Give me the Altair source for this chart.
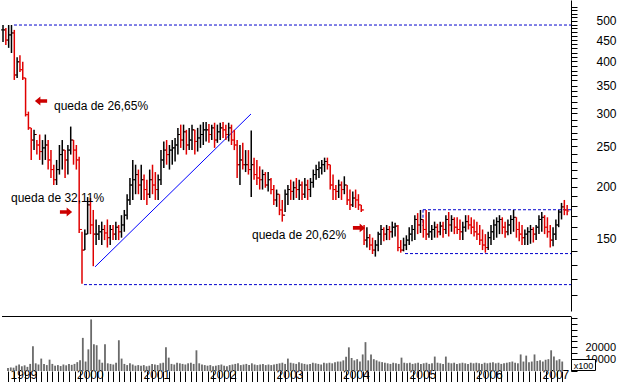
import altair as alt
import pandas as pd

# ---------------- data (semi-monthly bars, Jan 1999 .. Apr 2007) ----------------
high_1999 = [489,481,489,489,476,409,414,399,365,303,277,274,259,267,259,267,259,245,226,232,252,259,245,252]
low_1999 = [445,438,431,419,361,365,377,361,295,274,232,245,239,232,226,232,220,210,202,202,214,220,210,214]
close_1999 = [476,450,463,468,371,399,382,365,298,277,259,267,252,243,248,252,232,220,208,220,239,245,232,245]

high_2000 = [279,259,252,236,156,158,189,188,176,167,162,165,162,167,162,162,165,162,171,176,192,210,232,226]
low_2000 = [239,226,220,155,117,141,154,154,129,145,149,145,149,143,145,149,149,149,151,156,167,181,186,192]
close_2000 = [259,245,232,158,141,154,181,162,154,154,156,158,155,151,158,154,160,156,162,171,186,202,208,214]

high_2001 = [220,226,214,208,220,226,217,214,245,257,259,252,259,262,277,282,282,274,277,282,274,277,282,286]
low_2001 = [192,186,186,181,188,192,186,186,202,222,226,220,226,230,239,248,245,239,245,245,239,243,248,252]
close_2001 = [202,208,197,192,208,202,197,208,232,245,239,245,248,252,267,259,271,252,259,274,257,262,267,274]

high_2002 = [286,283,282,285,282,285,286,282,285,282,274,259,252,255,245,245,273,235,232,224,220,217,217,210]
low_2002 = [257,255,259,248,255,259,262,259,257,252,245,210,202,220,217,214,189,208,202,197,197,199,195,192]
close_2002 = [274,267,277,259,271,277,274,267,277,259,252,226,232,226,226,220,226,214,210,208,214,202,208,197]

high_2003 = [202,197,192,186,197,202,208,206,210,208,206,210,208,210,220,226,230,232,235,235,226,214,202,208]
low_2003 = [181,179,171,165,174,181,186,186,188,186,186,188,186,189,199,208,210,214,217,220,197,186,186,188]
close_2003 = [186,192,176,171,192,197,195,199,197,202,192,202,197,205,214,220,222,226,230,226,202,197,195,202]

high_2004 = [206,212,202,197,195,197,192,181,162,160,154,151,149,156,162,160,162,161,165,164,162,149,151,153]
low_2004 = [186,192,181,176,179,178,176,174,145,143,141,138,136,140,145,148,149,149,151,152,140,139,140,141]
close_2004 = [197,202,186,181,188,186,181,176,149,151,145,141,145,154,158,154,158,156,160,161,143,141,145,149]

high_2005 = [160,162,171,173,176,167,176,174,162,165,163,165,165,171,174,171,169,169,167,165,171,171,169,167]
low_2005 = [145,148,149,154,155,151,149,151,149,151,151,153,151,154,152,156,154,154,149,149,156,158,154,152]
close_2005 = [154,158,167,162,167,158,154,156,158,160,156,161,158,167,162,167,160,158,156,160,165,162,160,156]

high_2006 = [165,162,158,154,156,162,167,169,171,169,165,167,171,176,169,165,162,158,160,162,160,162,171,174]
low_2006 = [149,145,141,139,141,145,149,151,154,154,151,153,154,156,151,148,145,145,145,146,147,149,154,156]
close_2006 = [154,149,145,143,151,156,162,165,167,160,156,162,167,169,158,154,151,154,156,158,154,160,167,169]

high_2007 = [171,169,162,160,167,176,183,186,181]
low_2007 = [154,151,143,144,149,160,167,171,171]
close_2007 = [160,156,149,154,162,174,179,176,175]

# volume in units of x100
vol_1999 = [2500,3000,2800,4500,5500,4000,4800,3500,6000,21000,6500,5500,10500,6000,5000,9600,6000,4500,5000,4200,5500,4800,6000,5200]
vol_2000 = [6000,7500,9000,28000,8000,18300,43600,22700,21800,9600,7000,22700,6500,6000,5500,7000,26000,10500,6000,5000,6500,5500,4500,5000]
vol_2001 = [4500,5000,4000,4500,6000,5500,5000,6500,7000,20000,11300,6000,5500,7000,6500,6000,5500,6500,7000,6000,17500,6500,5500,5000]
vol_2002 = [4500,5000,4000,4500,5000,5500,4500,4000,5000,5500,6000,6500,5000,5500,6000,5000,6500,5500,5000,5500,6000,5000,5500,5000]
vol_2003 = [5500,6000,6500,7000,6000,10500,7000,6500,6000,7500,6500,6000,5500,6000,7000,6500,6000,5500,7000,6500,7000,6500,7500,8000]
vol_2004 = [8000,9000,12000,20000,11000,9000,10000,8000,14000,24400,9000,14000,10000,9000,8000,7500,7000,6500,6000,7000,6500,6000,11300,7000]
vol_2005 = [6500,7000,6000,6500,7000,6000,6500,7000,6000,6500,12200,7000,6500,6000,12200,7000,6500,7000,6000,6500,7000,6500,6000,7000]
vol_2006 = [6500,7000,6500,6000,7000,6500,7000,7500,6500,7000,6000,6500,7000,7500,8000,7000,6500,14000,8000,13000,7500,8000,14000,8500]
vol_2007 = [9000,8000,9500,10000,17500,12200,9000,10000,8000]

highs = high_1999 + high_2000 + high_2001 + high_2002 + high_2003 + high_2004 + high_2005 + high_2006 + high_2007
lows = low_1999 + low_2000 + low_2001 + low_2002 + low_2003 + low_2004 + low_2005 + low_2006 + low_2007
closes = close_1999 + close_2000 + close_2001 + close_2002 + close_2003 + close_2004 + close_2005 + close_2006 + close_2007
volumes = vol_1999 + vol_2000 + vol_2001 + vol_2002 + vol_2003 + vol_2004 + vol_2005 + vol_2006 + vol_2007

n = min(len(highs), len(lows), len(closes), len(volumes))
t = [1999 + i / 24 for i in range(n)]
opens = [closes[0]] + closes[: n - 1]
dirs = ["down" if c < o else "up" for c, o in zip(closes[:n], opens)]
df = pd.DataFrame(dict(t=t, high=highs[:n], low=lows[:n], open=opens, close=closes[:n], dir=dirs, vol=volumes[:n]))

# annotation lines (fractional year, price)
hline_x1 = [1999.162, 2000.196, 2005.204, 2004.938]
hline_x2 = [2007.39, 2007.39, 2007.39, 2007.39]
hline_y = [489, 116.5, 176.2, 138.3]
trend_t = [2000.359, 2002.663]
trend_p = [128.5, 299.1]
vline_t = [2005.204]
vline_y1 = [176.2]
vline_y2 = [161.0]

labels = ["queda de 26,65%", "queda de 32,11%", "queda de 20,62%"]
label_t = [1999.753, 1999.118, 2002.678]
label_p = [312.6, 188.1, 153.3]
arrow_dir = ["left", "right", "right"]
arrow_t = [1999.561, 1999.931, 2004.259]
arrow_p = [321.4, 174.0, 159.4]

# ---------------- chart ----------------
FONT = "Liberation Sans"
W = 569
xs = alt.Scale(domain=[1998.985, 2007.39], nice=False, zero=False)
ys = alt.Scale(type="log", domain=[100.7, 561.5], nice=False)
color = alt.Color("dir:N", scale=alt.Scale(domain=["up", "down"], range=["#000000", "#e00000"]), legend=None)

price_axis = alt.Axis(
    orient="right", values=list(range(110, 541, 10)),
    labelExpr="datum.value % 50 == 0 && datum.value >= 150 && datum.value <= 500 ? '' + datum.value : ''",
    tickSize=6, tickColor="black", domainColor="black", labelColor="black",
    labelFont=FONT, labelFontSize=12, labelPadding=19, title=None, grid=False,
    labelOverlap=False, labelFlush=False,
)
xq = alt.X("t:Q", scale=xs, axis=None)

base = alt.Chart(df)
hl = base.mark_rule(strokeWidth=1.5).encode(
    x=xq, y=alt.Y("low:Q", scale=ys, axis=price_axis), y2="high:Q", color=color)
op = base.mark_rule(strokeWidth=1, xOffset=-2).encode(
    x=xq, x2="t:Q", y=alt.Y("open:Q", scale=ys, axis=price_axis), color=color)
cl = base.mark_rule(strokeWidth=1, x2Offset=2).encode(
    x=xq, x2="t:Q", y=alt.Y("close:Q", scale=ys, axis=price_axis), color=color)

hdf = pd.DataFrame(dict(x1=hline_x1, x2=hline_x2, y=hline_y))
hlines = alt.Chart(hdf).mark_rule(color="#0000cc", strokeDash=[3, 2], strokeWidth=1).encode(
    x=alt.X("x1:Q", scale=xs, axis=None), x2="x2:Q", y=alt.Y("y:Q", scale=ys, axis=price_axis))

vdf = pd.DataFrame(dict(x=vline_t, y1=vline_y1, y2=vline_y2))
vlines = alt.Chart(vdf).mark_rule(color="#0000cc", strokeDash=[3, 2], strokeWidth=1).encode(
    x=alt.X("x:Q", scale=xs, axis=None), y=alt.Y("y1:Q", scale=ys, axis=price_axis), y2="y2:Q")

tdf = pd.DataFrame(dict(t=trend_t, p=trend_p))
trend = alt.Chart(tdf).mark_line(color="#0000ff", strokeWidth=1).encode(
    x=alt.X("t:Q", scale=xs, axis=None), y=alt.Y("p:Q", scale=ys, axis=price_axis))

ldf = pd.DataFrame(dict(t=label_t, p=label_p, txt=labels))
texts = alt.Chart(ldf).mark_text(align="left", baseline="middle", font=FONT, fontSize=12, color="black").encode(
    x=alt.X("t:Q", scale=xs, axis=None), y=alt.Y("p:Q", scale=ys, axis=price_axis), text="txt:N")

RIGHT_ARROW = "M 1 0 L 0.1 -0.72 L 0.1 -0.3 L -1 -0.3 L -1 0.3 L 0.1 0.3 L 0.1 0.72 Z"
LEFT_ARROW = "M -1 0 L -0.1 -0.72 L -0.1 -0.3 L 1 -0.3 L 1 0.3 L -0.1 0.3 L -0.1 0.72 Z"
adf = pd.DataFrame(dict(t=arrow_t, p=arrow_p, d=arrow_dir))
arrows = alt.Chart(adf).mark_point(filled=True, opacity=1, size=150, color="#cc0000").encode(
    x=alt.X("t:Q", scale=xs, axis=None), y=alt.Y("p:Q", scale=ys, axis=price_axis),
    shape=alt.Shape("d:N", scale=alt.Scale(domain=["left", "right"], range=[LEFT_ARROW, RIGHT_ARROW]), legend=None))

top = alt.layer(hlines, vlines, trend, hl, op, cl, texts, arrows).properties(width=W, height=311)

# volume panel
month_ticks = [1999 + k / 12 for k in range(0, 101)]
x_axis = alt.Axis(
    values=month_ticks,
    labelExpr="abs(datum.value - round(datum.value)) < 0.01 ? '' + round(datum.value) : ''",
    tickSize=16, tickColor="black", domain=False, grid=False, title=None,
    labelAlign="left", labelBaseline="top", labelOffset=2, labelPadding=-18,
    labelFont=FONT, labelFontSize=12, labelColor="black", labelOverlap=False, labelFlush=False,
)
vol_axis = alt.Axis(
    orient="right", values=[5000 * k for k in range(0, 10)],
    labelExpr="datum.value == 10000 || datum.value == 20000 ? '' + datum.value : ''",
    tickSize=6, tickColor="black", domainColor="black", labelColor="black",
    labelFont=FONT, labelFontSize=11, labelPadding=8, title=None, grid=False,
    labelOverlap=False, labelFlush=False,
)
vol = alt.Chart(df).mark_bar(size=1.8, color="#6a6a6a").encode(
    x=alt.X("t:Q", scale=xs, axis=x_axis),
    y=alt.Y("vol:Q", scale=alt.Scale(domain=[0, 46500], nice=False), axis=vol_axis))

one = pd.DataFrame({"a": [0]})
sep = alt.Chart(one).mark_rule(color="black", strokeWidth=1).encode(
    x=alt.value(0), x2=alt.value(W), y=alt.value(0.5))
unit_box = alt.Chart(one).mark_rect(fill="white", stroke="black", strokeWidth=1).encode(
    x=alt.value(569.5), x2=alt.value(593.5), y=alt.value(43.5), y2=alt.value(54.5))
unit_txt = alt.Chart(one).mark_text(text="x100", font=FONT, fontSize=9, color="black", align="center", baseline="middle").encode(
    x=alt.value(581.5), y=alt.value(49.5))

bottom = alt.layer(vol, sep, unit_box, unit_txt).properties(width=W, height=55)

chart = alt.vconcat(top, bottom, spacing=0).properties(
    padding=0, background="white"
).configure_view(stroke=None)

chart.save("out.html", embed_options={"renderer": "svg", "actions": False})
